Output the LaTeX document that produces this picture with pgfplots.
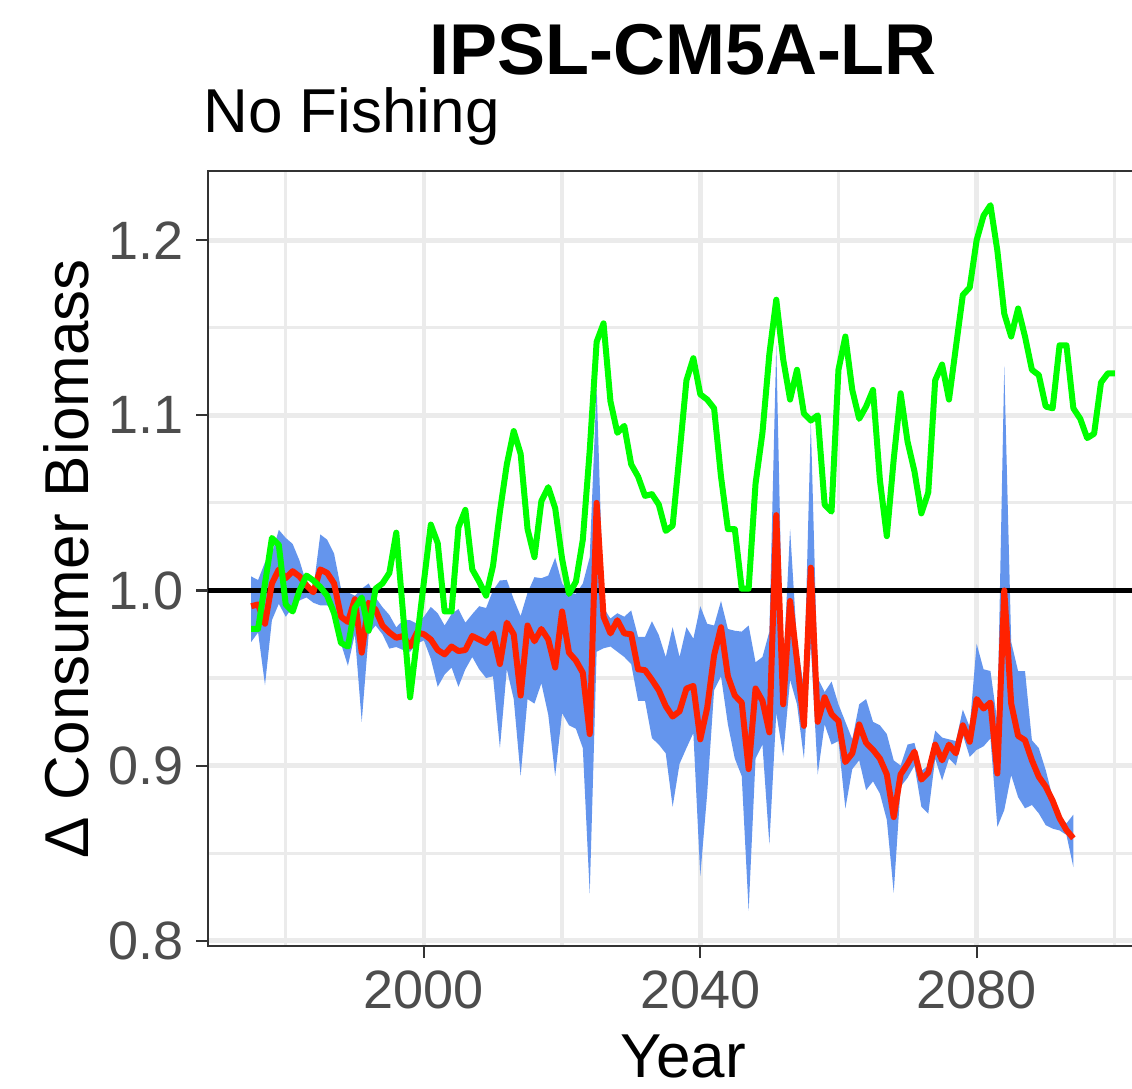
\documentclass[border=0pt]{standalone}
\usepackage{fontspec}
\setmainfont{Liberation Sans}
\usepackage{pgfplots}
\pgfplotsset{compat=1.18}
\usepackage{pgfplotstable}
\definecolor{ggred}{RGB}{255,34,0}
\definecolor{gggreen}{RGB}{0,255,0}
\definecolor{ggblue}{RGB}{100,149,237}
\definecolor{gridgray}{RGB}{235,235,235}
\definecolor{axgray}{RGB}{51,51,51}
\definecolor{tickgray}{RGB}{77,77,77}

\pgfplotstableread{
year lo mid hi
1975 0.9706 0.991 1.008
1976 0.976 0.992 1.006
1977 0.946 0.981 1.016
1978 0.983 1.004 1.021
1979 0.9924 1.012 1.0346
1980 0.985 1.007 1.030
1981 0.9905 1.011 1.0266
1982 0.9943 1.008 1.017
1983 0.996 1.003 1.004
1984 0.993 0.999 1.001
1985 0.9915 1.012 1.032
1986 0.9915 1.010 1.029
1987 0.9886 1.004 1.021
1988 0.9696 0.985 1.001
1989 0.957 0.982 0.999
1990 0.975 0.995 0.997
1991 0.925 0.9645 1.001
1992 0.975 0.993 1.004
1993 0.980 0.989 0.996
1994 0.975 0.980 0.9905
1995 0.9668 0.976 0.986
1996 0.9677 0.973 0.979
1997 0.966 0.974 0.983
1998 0.965 0.968 0.983
1999 0.9696 0.976 0.981
2000 0.9715 0.975 0.985
2001 0.961 0.972 0.9906
2002 0.945 0.966 0.987
2003 0.952 0.9635 0.980
2004 0.956 0.968 0.9865
2005 0.945 0.9654 0.9894
2006 0.955 0.966 0.9816
2007 0.962 0.974 0.9865
2008 0.955 0.972 0.991
2009 0.950 0.970 0.990
2010 0.951 0.9755 1.000
2011 0.910 0.958 1.0057
2012 0.955 0.9816 1.006
2013 0.938 0.975 0.995
2014 0.894 0.940 0.9854
2015 0.938 0.980 0.9987
2016 0.9354 0.971 1.0076
2017 0.947 0.978 1.007
2018 0.929 0.972 1.0085
2019 0.894 0.956 1.0187
2020 0.930 0.988 1.004
2021 0.923 0.9645 0.999
2022 0.921 0.960 0.998
2023 0.910 0.953 1.004
2024 0.827 0.918 1.019
2025 0.965 1.050 1.117
2026 0.967 0.985 0.990
2027 0.968 0.9755 0.984
2028 0.965 0.983 0.987
2029 0.962 0.9755 0.985
2030 0.958 0.975 0.9886
2031 0.937 0.955 0.9735
2032 0.937 0.9545 0.9735
2033 0.9157 0.949 0.9824
2034 0.912 0.943 0.9745
2035 0.907 0.934 0.962
2036 0.8765 0.928 0.979
2037 0.901 0.931 0.962
2038 0.910 0.944 0.979
2039 0.9186 0.9455 0.9725
2040 0.837 0.915 0.991
2041 0.884 0.933 0.981
2042 0.943 0.963 0.980
2043 0.951 0.979 0.994
2044 0.9235 0.951 0.978
2045 0.904 0.940 0.977
2046 0.894 0.936 0.9765
2047 0.817 0.898 0.980
2048 0.904 0.944 0.959
2049 0.912 0.937 0.962
2050 0.855 0.919 0.9765
2051 0.930 1.043 1.140
2052 0.9056 0.935 0.955
2053 0.949 0.994 1.035
2054 0.935 0.960 0.970
2055 0.904 0.9227 0.945
2056 0.9686 1.013 1.096
2057 0.895 0.925 0.950
2058 0.9235 0.939 0.942
2059 0.912 0.9294 0.948
2060 0.914 0.9255 0.935
2061 0.8755 0.902 0.925
2062 0.898 0.907 0.915
2063 0.903 0.9235 0.935
2064 0.886 0.913 0.938
2065 0.891 0.909 0.925
2066 0.884 0.904 0.923
2067 0.869 0.895 0.918
2068 0.8275 0.8706 0.903
2069 0.888 0.895 0.900
2070 0.893 0.901 0.912
2071 0.900 0.908 0.913
2072 0.8765 0.892 0.897
2073 0.8725 0.896 0.900
2074 0.904 0.912 0.920
2075 0.8915 0.903 0.916
2076 0.904 0.912 0.915
2077 0.900 0.907 0.914
2078 0.9176 0.923 0.932
2079 0.905 0.9136 0.922
2080 0.909 0.938 0.9696
2081 0.911 0.9326 0.955
2082 0.9155 0.936 0.954
2083 0.865 0.8955 0.925
2084 0.8746 1.000 1.128
2085 0.8946 0.9354 0.9706
2086 0.882 0.917 0.954
2087 0.8756 0.9145 0.954
2088 0.8775 0.903 0.9145
2089 0.8727 0.8936 0.910
2090 0.866 0.888 0.8974
2091 0.864 0.880 0.882
2092 0.863 0.870 0.872
2093 0.8604 0.8632 0.867
2094 0.842 0.8585 0.872
}\band

\pgfplotstableread{
year g
1975 0.978
1976 0.978
1977 1.004
1978 1.030
1979 1.026
1980 0.992
1981 0.988
1982 1.000
1983 1.0085
1984 1.0057
1985 1.002
1986 0.997
1987 0.987
1988 0.970
1989 0.968
1990 0.990
1991 0.996
1992 0.977
1993 1.001
1994 1.004
1995 1.010
1996 1.033
1997 0.986
1998 0.939
1999 0.972
2000 1.005
2001 1.0376
2002 1.027
2003 0.988
2004 0.988
2005 1.036
2006 1.046
2007 1.012
2008 1.005
2009 0.997
2010 1.014
2011 1.045
2012 1.072
2013 1.091
2014 1.078
2015 1.035
2016 1.019
2017 1.051
2018 1.059
2019 1.047
2020 1.018
2021 0.998
2022 1.005
2023 1.029
2024 1.080
2025 1.142
2026 1.1525
2027 1.108
2028 1.090
2029 1.094
2030 1.072
2031 1.065
2032 1.054
2033 1.055
2034 1.049
2035 1.034
2036 1.037
2037 1.078
2038 1.120
2039 1.1326
2040 1.112
2041 1.109
2042 1.104
2043 1.065
2044 1.035
2045 1.035
2046 1.001
2047 1.001
2048 1.061
2049 1.090
2050 1.135
2051 1.166
2052 1.132
2053 1.109
2054 1.126
2055 1.101
2056 1.097
2057 1.100
2058 1.049
2059 1.045
2060 1.126
2061 1.145
2062 1.1145
2063 1.098
2064 1.105
2065 1.1145
2066 1.063
2067 1.031
2068 1.075
2069 1.1126
2070 1.085
2071 1.068
2072 1.044
2073 1.056
2074 1.120
2075 1.129
2076 1.109
2077 1.139
2078 1.1687
2079 1.173
2080 1.200
2081 1.214
2082 1.220
2083 1.194
2084 1.158
2085 1.145
2086 1.161
2087 1.145
2088 1.126
2089 1.123
2090 1.105
2091 1.104
2092 1.140
2093 1.140
2094 1.104
2095 1.098
2096 1.087
2097 1.0895
2098 1.1187
2099 1.124
2100 1.124
}\green

\begin{document}
\begin{tikzpicture}[x=1pt,y=1pt]
\begin{axis}[
  at={(104pt,71.5pt)}, anchor=south west,
  scale only axis, width=475pt, height=387.5pt,
  xmin=1968.75, xmax=2106.25, ymin=0.797, ymax=1.2395,
  xtick={2000,2040,2080}, xticklabels={2000,2040,2080},
  ytick={0.8,0.9,1.0,1.1,1.2}, yticklabels={0.8,0.9,1.0,1.1,1.2},
  minor xtick={1980,2020,2060,2100}, minor ytick={0.85,0.95,1.05,1.15},
  grid=both,
  major grid style={gridgray, line width=2.4pt},
  minor grid style={gridgray, line width=1.6pt},
  tick align=outside, major tick length=6pt, minor tick length=0pt,
  xtick pos=bottom, ytick pos=left,
  major tick style={axgray, line width=1.1pt},
  axis line style={axgray, line width=1.1pt},
  tick label style={font=\fontsize{27}{27}\selectfont, text=tickgray},
  yticklabel style={anchor=east, inner sep=0pt, xshift=-6pt},
  xticklabel style={anchor=north, inner sep=0pt, yshift=-6pt},
  no markers,
]
\addplot[draw=none, forget plot, stack plots=y] table[x=year,y=lo]{\band};
\addplot[fill=ggblue, draw=none, forget plot, stack plots=y] table[x=year,y expr=\thisrow{hi}-\thisrow{lo}]{\band} \closedcycle;
\addplot[black, line width=2.5pt] coordinates {(1968.75,1) (2106.25,1)};
\addplot[ggred, line width=3pt, line join=round] table[x=year,y=mid]{\band};
\addplot[gggreen, line width=3pt, line join=round] table[x=year,y=g]{\green};
\end{axis}
\node[anchor=base, inner sep=0pt, font=\fontsize{36}{36}\selectfont\bfseries] at (341.5,507) {IPSL-CM5A-LR};
\node[anchor=base west, inner sep=0pt, font=\fontsize{31}{31}\selectfont] at (101.5,478) {No Fishing};
\node[anchor=base, inner sep=0pt, font=\fontsize{31}{31}\selectfont] at (341.5,5.5) {Year};
\node[anchor=base, rotate=90, inner sep=0pt, font=\fontsize{31}{31}\selectfont] at (44,265) {Δ Consumer Biomass};
\pgfresetboundingbox
\path[use as bounding box] (0,0) rectangle (566,544.5);
\end{tikzpicture}
\end{document}
